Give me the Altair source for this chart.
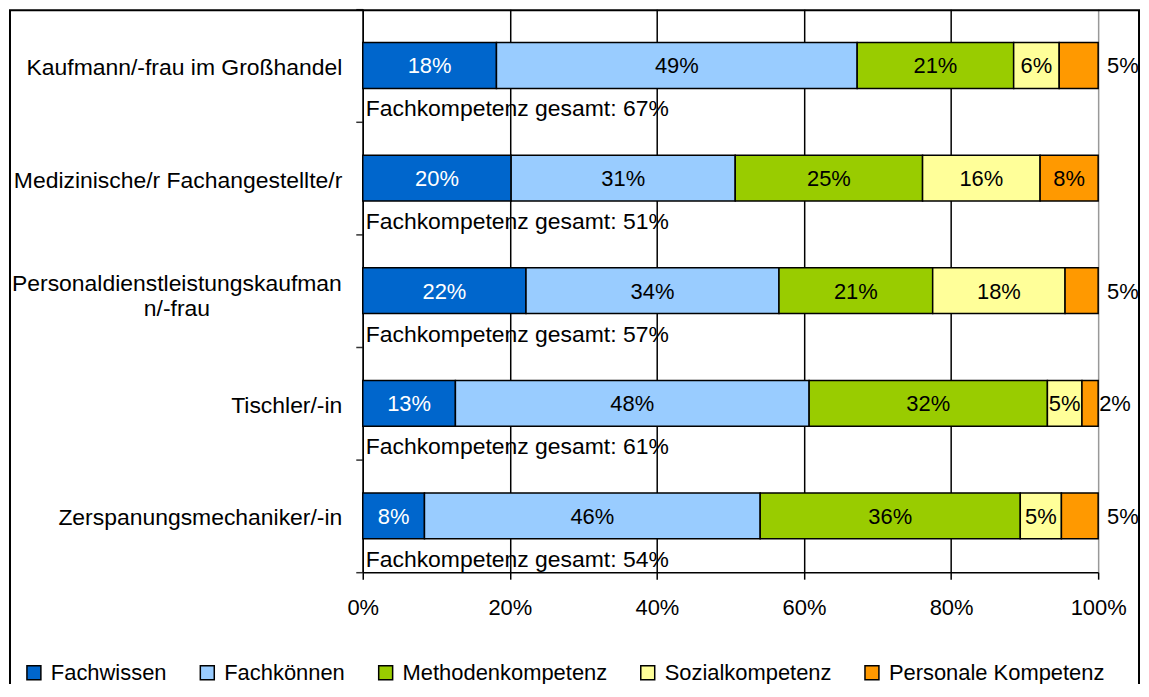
import altair as alt
import pandas as pd

FONT = "Liberation Sans"

categories = [
    "Kaufmann/-frau im Großhandel",
    "Medizinische/r Fachangestellte/r",
    "Personaldienstleistungskaufmann/-frau",
    "Tischler/-in",
    "Zerspanungsmechaniker/-in",
]
series = ["Fachwissen", "Fachkönnen", "Methodenkompetenz", "Sozialkompetenz", "Personale Kompetenz"]
colors = ["#0066CC", "#99CCFF", "#99CC00", "#FFFF99", "#FF9900"]

fachwissen = [18.2, 20.2, 22.2, 12.6, 8.4]
fachkoennen = [49.1, 30.5, 34.4, 48.1, 45.7]
methoden = [21.3, 25.5, 20.9, 32.4, 35.4]
sozial = [6.2, 16.0, 18.0, 4.7, 5.6]
personal = [5.3, 7.9, 4.5, 2.2, 5.0]

lab_fachwissen = ["18%", "20%", "22%", "13%", "8%"]
lab_fachkoennen = ["49%", "31%", "34%", "48%", "46%"]
lab_methoden = ["21%", "25%", "21%", "32%", "36%"]
lab_sozial = ["6%", "16%", "18%", "5%", "5%"]
lab_personal = ["5%", "8%", "5%", "2%", "5%"]

fachkompetenz_gesamt = ["67%", "51%", "57%", "61%", "54%"]
x_ticks = [0, 20, 40, 60, 80, 100]

values = [fachwissen, fachkoennen, methoden, sozial, personal]
labels = [lab_fachwissen, lab_fachkoennen, lab_methoden, lab_sozial, lab_personal]

rows = []
for ci, cat in enumerate(categories):
    total = sum(v[ci] for v in values)
    acc = 0.0
    for si, s in enumerate(series):
        w = values[si][ci] / total * 100
        rows.append({
            "cat": cat, "series": s, "start": acc, "end": acc + w,
            "mid": acc + w / 2, "label": labels[si][ci],
            "outside": bool(s == "Personale Kompetenz" and w < 6),
        })
        acc += w
df = pd.DataFrame(rows)

fk_df = pd.DataFrame({"cat": categories,
                      "txt": ["Fachkompetenz gesamt: " + v for v in fachkompetenz_gesamt]})

two_line = "Personaldienstleistungskaufmann/-frau"
is_two = "datum.value == '" + two_line + "'"
label_expr = ("datum.value == '" + two_line + "' ? ['Personaldienstleistungskaufman', 'n/-frau'] : datum.label")

y_enc = alt.Y(
    "cat:N", sort=categories, title=None,
    scale=alt.Scale(paddingInner=0, paddingOuter=0),
    axis=alt.Axis(
        tickBand="extent", tickSize=7, tickColor="#333333", tickWidth=1.5,
        domainColor="black", domainWidth=1.5,
        labelFontSize=23,
        labelAlign={"condition": {"test": is_two, "value": "center"}, "value": "right"},
        labelPadding={"condition": {"test": is_two, "value": 180}, "value": 14},
        labelBaseline="alphabetic",
        labelOffset={"condition": {"test": is_two, "value": 0}, "value": 9},
        labelLineHeight=25, labelExpr=label_expr, labelLimit=0,
    ),
)

x_enc = alt.X(
    "start:Q", title=None,
    scale=alt.Scale(domain=[0, 100], nice=False),
    axis=alt.Axis(
        values=x_ticks, labelExpr="datum.value + '%'",
        grid=True, gridWidth=1.5,
        gridColor={"condition": {"test": "datum.value == 100", "value": "#999999"}, "value": "black"},
        tickSize=7, tickColor="black", tickWidth=1.5,
        domainColor="black", domainWidth=1.5,
        labelBaseline="alphabetic", labelPadding=35, labelFlush=False,
    ),
)

frame = alt.Chart(pd.DataFrame({"a": [0]})).mark_rect(
    fill="transparent", stroke="black", strokeWidth=2
).encode(x=alt.value(-354), x2=alt.value(779), y=alt.value(1), y2=alt.value(720))

bars = alt.Chart(df).mark_bar(size=46, stroke="black", strokeWidth=1.5).encode(
    x=x_enc,
    x2="end:Q",
    y=y_enc,
    color=alt.Color(
        "series:N",
        scale=alt.Scale(domain=series, range=colors),
        legend=alt.Legend(
            title=None, orient="none", legendX=-341, legendY=655,
            direction="horizontal", symbolType="square", symbolSize=196,
            symbolStrokeColor="black", symbolStrokeWidth=1.5,
            labelFont=FONT, labelFontSize=22, labelColor="black",
            columnPadding=29, labelOffset=6, padding=0, labelLimit=0,
        ),
    ),
)

inside = alt.Chart(df).transform_filter("!datum.outside").mark_text(
    baseline="alphabetic", dy=8, fontSize=22, font=FONT
).encode(
    x="mid:Q",
    y=alt.Y("cat:N", sort=categories),
    text="label:N",
    color=alt.condition("datum.series == 'Fachwissen'", alt.value("white"), alt.value("black")),
)

outside_a = alt.Chart(df).transform_filter(
    "datum.outside && datum.cat != 'Tischler/-in'"
).mark_text(baseline="alphabetic", align="left", dx=9, dy=8, fontSize=22, font=FONT, color="black").encode(
    x="end:Q", y=alt.Y("cat:N", sort=categories), text="label:N",
)

outside_b = alt.Chart(df).transform_filter(
    "datum.outside && datum.cat == 'Tischler/-in'"
).mark_text(baseline="alphabetic", align="left", dx=1, dy=8, fontSize=22, font=FONT, color="black").encode(
    x="end:Q", y=alt.Y("cat:N", sort=categories), text="label:N",
)

fk = alt.Chart(fk_df).mark_text(
    baseline="alphabetic", align="left", dx=3, dy=51, fontSize=23, font=FONT, color="black"
).encode(
    x=alt.datum(0), y=alt.Y("cat:N", sort=categories), text="txt:N",
)

chart = alt.layer(frame, bars, inside, outside_a, outside_b, fk).properties(
    width=738, height=565,
    autosize=alt.AutoSizeParams(type="none"),
    padding={"left": 356, "top": 0, "right": 43, "bottom": 111},
).configure_view(strokeWidth=0).configure_axis(
    labelFont=FONT, labelFontSize=22, labelColor="black"
)

chart.save("out.html", embed_options={"renderer": "svg", "actions": False})
